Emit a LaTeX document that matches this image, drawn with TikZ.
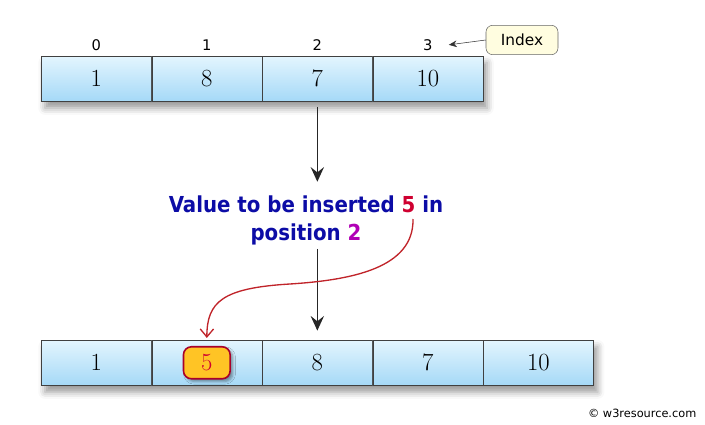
\documentclass[tikz,border=0pt]{standalone}
\usepackage{fontspec}
\newfontfamily\msgfont{DejaVu Sans Condensed}
\newfontfamily\smallfont{DejaVu Sans}
\usetikzlibrary{positioning,arrows.meta,shadows.blur,backgrounds}
\definecolor{cellTop}{HTML}{E3F5FE}
\definecolor{cellBot}{HTML}{A5D9F7}
\definecolor{msgBlue}{HTML}{0C0CA6}
\definecolor{valRed}{HTML}{CF0030}
\definecolor{posPurple}{HTML}{B000B5}
\definecolor{newFill}{HTML}{FFC425}
\definecolor{newEdge}{HTML}{A8002A}
\definecolor{noteFill}{HTML}{FFFDE0}
\definecolor{curveRed}{HTML}{C0242A}
\begin{document}
\begin{tikzpicture}[
  x=0.75pt, y=-0.75pt,
  cell/.style={draw=black!75, minimum width=82.5pt, minimum height=33.75pt, inner sep=0pt,
    top color=cellTop, bottom color=cellBot, text=black, font=\fontsize{18.5}{20}\selectfont},
  idx/.style={inner sep=1pt, font=\smallfont\fontsize{11}{13}\selectfont},
  note/.style={draw=black!60, fill=noteFill, rounded corners=5pt, minimum width=54pt,
    minimum height=22pt, inner sep=2pt, font=\smallfont\fontsize{11.5}{13}\selectfont},
  msg/.style={align=center, inner sep=1pt, text=msgBlue,
    font=\msgfont\bfseries\fontsize{16.5}{21}\selectfont},
  newval/.style={draw=newEdge, line width=1.2pt, fill=newFill, rounded corners=6pt, text=valRed,
    minimum width=35pt, minimum height=24pt, inner sep=0pt, font=\fontsize{18.5}{20}\selectfont,
    blur shadow={shadow xshift=2pt, shadow yshift=-2pt, shadow blur radius=2pt}},
  arr/.style={draw=black!85, line width=1.2pt, -{Stealth[length=11pt, width=10pt, inset=4pt]}},
  redarr/.style={draw=curveRed, line width=1pt, -{Straight Barb[length=6pt, width=10pt]}},
  arrshadow/.style={fill=white, blur shadow={shadow xshift=3pt, shadow yshift=-5pt,
    shadow blur radius=5pt, shadow opacity=40}}
]
\useasboundingbox (0,0) rectangle (705,424);

\node[cell, anchor=north west] (t0) at (41,56) {1};
\node[cell, right=0pt of t0] (t1) {8};
\node[cell, right=0pt of t1] (t2) {7};
\node[cell, right=0pt of t2] (t3) {10};

\node[idx, above=3pt of t0] (i0) {0};
\node[idx, above=3pt of t1] (i1) {1};
\node[idx, above=3pt of t2] (i2) {2};
\node[idx, above=3pt of t3] (i3) {3};

\node[note] (ix) at (522,40) {Index};
\draw[draw=black!80, -{Stealth[length=6pt, width=5pt]}] (ix.west) -- ([xshift=11pt]i3.east);

\node[msg] (msg) at (306,220)
  {Value to be inserted {\color{valRed}5} in\\position {\color{posPurple}2}};
\coordinate (src) at (413,219);

\node[cell, anchor=north west] (b0) at (41,340) {1};
\node[cell, right=0pt of b0] (b1) {};
\node[cell, right=0pt of b1] (b2) {8};
\node[cell, right=0pt of b2] (b3) {7};
\node[cell, right=0pt of b3] (b4) {10};
\node[newval] (n5) at (b1) {5};

\begin{scope}[on background layer]
  \path[arrshadow] (t0.north west) rectangle (t3.south east);
  \path[arrshadow] (b0.north west) rectangle (b4.south east);
\end{scope}

\draw[arr, shorten <=4pt, shorten >=9pt] (t2.south) -- (t2.south |- msg.north);
\draw[arr, shorten <=2pt, shorten >=7pt] (b2 |- msg.south) -- (b2.north);
\draw[redarr, shorten >=6pt] (src) .. controls (414,268) and (352,280) .. (290,284)
  .. controls (222,288) and (207,302) .. (n5.north);

\node[font=\smallfont\fontsize{8.5}{10}\selectfont, anchor=east] (copy) at (701,413) {© w3resource.com};
\end{tikzpicture}
\end{document}
